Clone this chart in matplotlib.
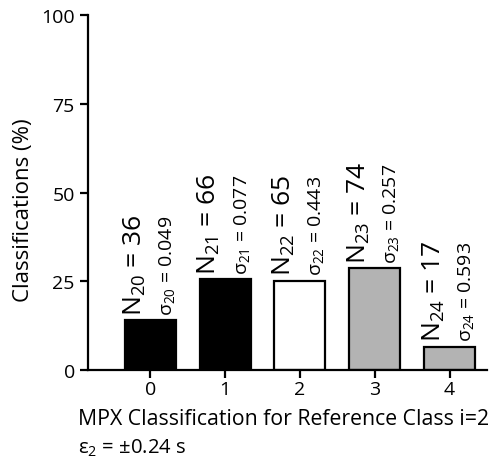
import matplotlib
matplotlib.use('Agg')
import matplotlib.pyplot as plt

plt.rcParams['font.family'] = ['Open Sans', 'DejaVu Sans']
plt.rcParams['mathtext.fontset'] = 'custom'
plt.rcParams['mathtext.rm'] = 'Open Sans'
plt.rcParams['mathtext.it'] = 'Open Sans'

# data
classes = [0, 1, 2, 3, 4]
percent = [14.0, 25.6, 25.2, 28.7, 6.6]
counts = [36, 66, 65, 74, 17]
sigmas = ['0.049', '0.077', '0.443', '0.257', '0.593']
subs = ['20', '21', '22', '23', '24']
bar_colors = ['black', 'black', 'white', '#b3b3b3', '#b3b3b3']

fig = plt.figure(figsize=(4.92, 4.64), dpi=100)
ax = fig.add_axes([0.179, 0.2, 0.811, 0.7655])

ax.bar(classes, percent, width=0.68, color=bar_colors, edgecolor='black', linewidth=1.6)

for x, y, n, s, sub in zip(classes, percent, counts, sigmas, subs):
    ax.text(x - 0.21, y + 1.5, '$\\mathregular{N_{%s}}$ = %d' % (sub, n), rotation=90,
            ha='center', va='bottom', fontsize=19)
    ax.text(x + 0.22, y + 1.5, '$\\mathregular{\\sigma_{%s}}$ = %s' % (sub, s), rotation=90,
            ha='center', va='bottom', fontsize=14)

ax.set_xlim(-0.83, 4.5)
ax.set_ylim(0, 100)
ax.set_xticks(classes)
ax.set_yticks([0, 25, 50, 75, 100])
ax.spines['top'].set_visible(False)
ax.spines['right'].set_visible(False)
ax.spines['left'].set_linewidth(1.6)
ax.spines['bottom'].set_linewidth(1.6)
ax.tick_params(axis='both', width=1.6, length=6, labelsize=14)
ax.tick_params(axis='x', pad=1)
ax.set_ylabel('Classifications (%)', fontsize=16)
ax.yaxis.set_label_coords(-0.135, 0.453)

fig.text(78 / 492, 1 - 420 / 464, 'MPX Classification for Reference Class i=2',
         ha='left', va='center', fontsize=15.3)
fig.text(78 / 492, 1 - 448 / 464, '$\\mathregular{\\epsilon_{2}}$ = ±0.24 s',
         ha='left', va='center', fontsize=14.6)

fig.savefig('out.png', dpi=100)
